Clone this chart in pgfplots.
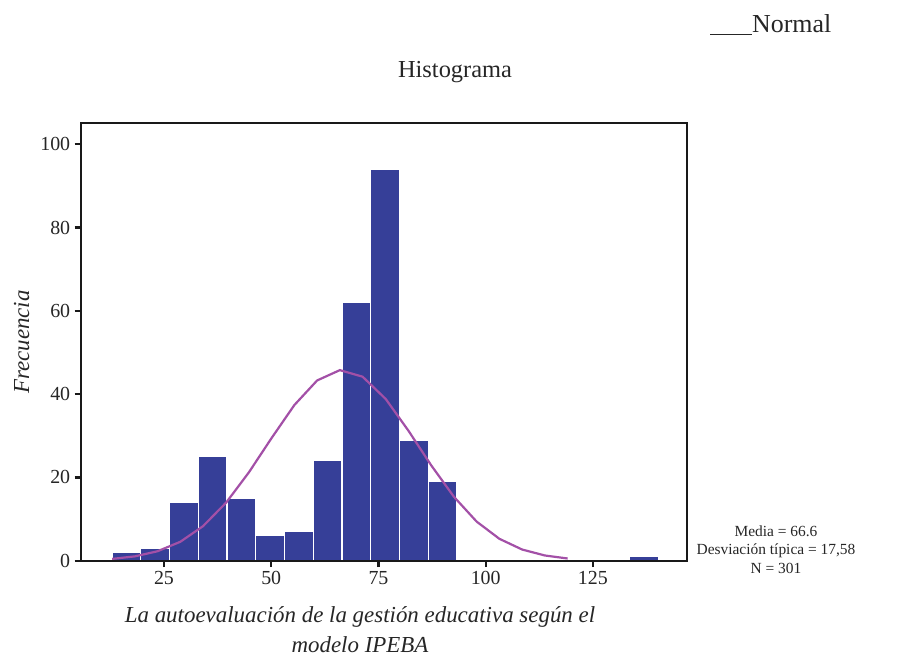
\documentclass[border=0pt]{standalone}
\usepackage{fontspec}
\setmainfont{Liberation Serif}
\usepackage{pgfplots}
\pgfplotsset{compat=1.18}

\definecolor{barblue}{RGB}{54,63,152}
\definecolor{normalpurple}{RGB}{163,80,167}

\begin{document}
\begin{tikzpicture}[x=1bp,y=1bp]
% page frame
\path (-81.2,-97.3) rectangle (816.8,560.7);
\begin{axis}[
  at={(0,0)}, anchor=south west,
  scale only axis,
  width=606.1bp, height=438bp,
  xmin=5.7, xmax=147,
  ymin=0, ymax=105.2,
  xtick={25,50,75,100,125},
  ytick={0,20,40,60,80,100},
  xtick pos=bottom, ytick pos=left,
  tick align=outside,
  major tick length=6.5bp,
  axis line style={line width=2.3bp, black!90},
  major tick style={line width=2.3bp, black!90},
  tick label style={font=\fontsize{20}{24}\selectfont, text=black!85},
  /pgf/number format/assume math mode=true,
  xticklabel style={yshift=-1bp},
  yticklabel style={xshift=-1bp},
  axis on top,
  clip=false,
]
% frequency histogram, bin width 6.7
\addplot[ybar interval, fill=barblue, draw=white, line width=1.1bp]
  coordinates {
    (12.9,2) (19.6,3) (26.3,14) (33.0,25) (39.7,15) (46.4,6)
    (53.1,7) (59.8,24) (66.5,62) (73.2,94) (79.9,29) (86.6,19)
    (93.3,19)
  };
\addplot[ybar interval, fill=barblue, draw=white, line width=1.1bp]
  coordinates {(133.5,1) (140.2,1)};
% fitted normal curve (media 66.6, desv. 17.58, N 301)
\addplot[normalpurple, line width=2.2bp, mark=none]
  coordinates {
    (12.9,0.43) (18.2,1.04) (23.5,2.27) (28.8,4.54) (34.1,8.29)
    (39.5,13.96) (44.8,21.23) (50.1,29.48) (55.4,37.39) (60.7,43.29)
    (66.0,45.77) (71.3,44.19) (76.7,38.83) (82.0,31.20) (87.3,22.90)
    (92.6,15.34) (97.9,9.38) (103.2,5.25) (108.5,2.68) (113.8,1.25)
    (119.1,0.53)
  };
\end{axis}
% titles and annotations
\node[anchor=base, font=\fontsize{24.5}{28}\selectfont, text=black!85] at (373.8,482.7) {Histograma};
\node[anchor=base west, font=\fontsize{26}{30}\selectfont, text=black!85, inner sep=0pt] at (628.8,527.7) {\rule[-2bp]{42bp}{1.2bp}Normal};
\node[anchor=base, font=\fontsize{15.5}{18}\selectfont, text=black!85, inner sep=0pt] at (694.8,24) {Media = 66.6};
\node[anchor=base, font=\fontsize{15.5}{18}\selectfont, text=black!85, inner sep=0pt] at (694.8,5.7) {Desviación típica = 17,58};
\node[anchor=base, font=\fontsize{15.5}{18}\selectfont, text=black!85, inner sep=0pt] at (694.8,-12.6) {N = 301};
\node[anchor=base, font=\fontsize{23}{27}\selectfont\itshape, text=black!85, inner sep=0pt] at (278.8,-61.5) {La autoevaluación de la gestión educativa según el};
\node[anchor=base, font=\fontsize{23}{27}\selectfont\itshape, text=black!85, inner sep=0pt] at (278.8,-91.8) {modelo IPEBA};
\node[rotate=90, anchor=base, font=\fontsize{23}{27}\selectfont\itshape, text=black!85, inner sep=0pt] at (-52,218.7) {Frecuencia};
\end{tikzpicture}
\end{document}
